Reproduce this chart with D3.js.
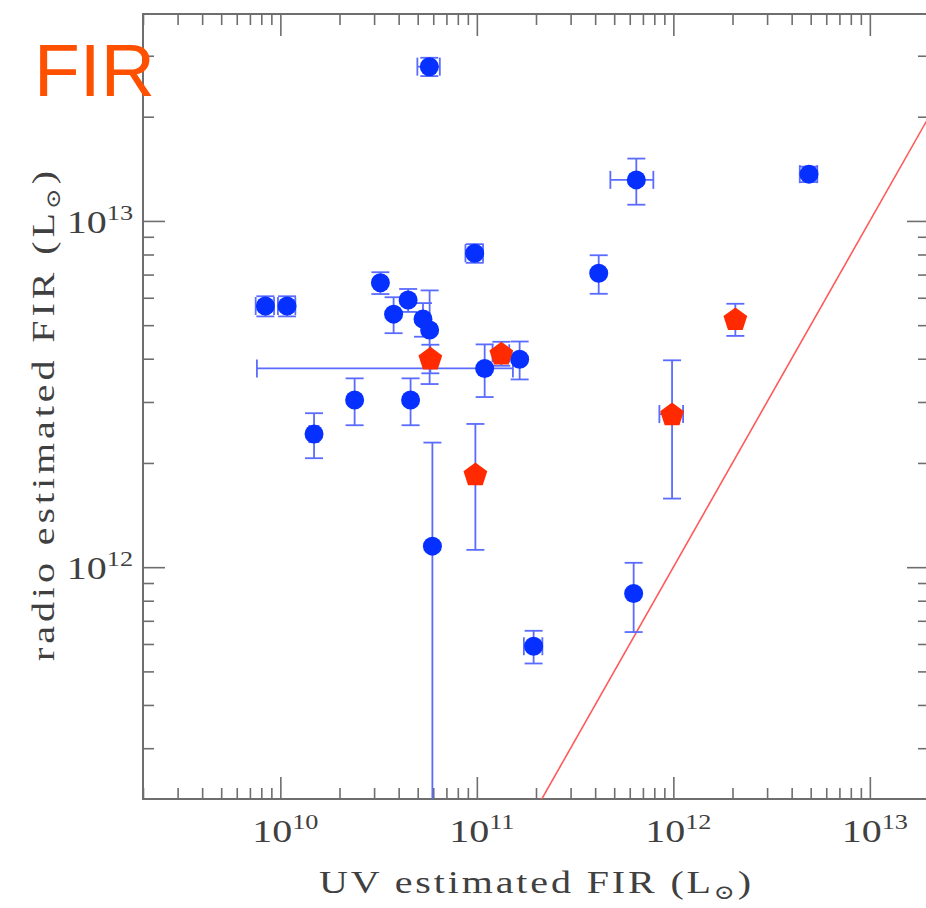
<!DOCTYPE html>
<html>
<head>
<meta charset="utf-8">
<script src="https://cdn.jsdelivr.net/npm/d3@7"></script>
<style>
  body { margin: 0; background: #fff; }
  svg { display: block; }
</style>
</head>
<body>
<svg id="chart" width="926" height="908"></svg>
<script>
// Radio-estimated vs UV-estimated far-infrared luminosity (solar units)

// Blue sample (filled circles)
const blueX       = [5.73e10, 6.48e11, 4.90e12, 9.75e10, 4.17e11, 8.39e9, 1.082e10, 3.23e10, 3.77e10, 4.47e10,
                     5.32e10, 5.75e10, 1.096e11, 1.651e11, 1.484e10, 2.388e10, 4.60e10, 5.94e10, 1.945e11, 6.28e11];
const blueY       = [2.79e13, 1.314e13, 1.365e13, 8.07e12, 7.06e12, 5.68e12, 5.68e12, 6.63e12, 5.38e12, 5.91e12,
                     5.21e12, 4.84e12, 3.75e12, 3.985e12, 2.424e12, 3.04e12, 3.04e12, 1.15e12, 5.91e11, 8.395e11];
const blueXErrLo  = [0.75e10, 1.7e11, 0.5e12, 1.0e10, 0, 0.9e9, 1.1e9, 0, 0, 0,
                     0, 0, 1.02e11, 0, 0.08e10, 0, 0, 0, 0.21e11, 0];
const blueXErrHi  = [0.75e10, 1.43e11, 0.5e12, 1.0e10, 0, 0.9e9, 1.1e9, 0, 0, 0,
                     0, 0, 0.43e11, 0, 0.08e10, 0, 0, 0, 0.21e11, 0];
const blueYErr    = [0.17e13, 0.2e13, 0.07e13, 0.5e12, 0.9e12, 0.38e12, 0.38e12, 0.48e12, 0.64e12, 0.45e12,
                     0.58e12, 1.46e12, 0.65e12, 0.5e12, 0.36e12, 0.47e12, 0.47e12, 1.14e12, 0.64e11, 0.19e12];

// Red sample (pentagons)
const redX    = [5.80e10, 1.332e11, 9.83e10, 9.85e11, 2.068e12];
const redY    = [4.01e12, 4.147e12, 1.857e12, 2.768e12, 5.21e12];
const redXErr = [0, 0.13e11, 0, 1.36e11, 0];
const redYErr = [0.38e12, 0.33e12, 0.735e12, 1.19e12, 0.555e12];

// Axes
const xDomain = [2e9, 2e13];
const yDomain = [2.14e11, 3.96e13];
const xMajor = [1e10, 1e11, 1e12, 1e13];
const xMajorExp = ["10", "11", "12", "13"];
const yMajor = [1e12, 1e13];
const yMajorExp = ["12", "13"];
const oneToOneRange = [1e9, 1e14];

const plot = { left: 143, right: 929, top: 14, bottom: 799 };

const svg = d3.select("#chart");
const x = d3.scaleLog().domain(xDomain).range([plot.left, plot.right]);
const y = d3.scaleLog().domain(yDomain).range([plot.bottom, plot.top]);

svg.append("defs").append("clipPath").attr("id", "plotClip")
  .append("rect")
  .attr("x", plot.left).attr("y", plot.top)
  .attr("width", plot.right - plot.left).attr("height", plot.bottom - plot.top);

const axisColor = "#6e6e6e";
const majorLen = 22, minorLen = 11;

const isMajor = v => Math.abs(Math.log10(v) - Math.round(Math.log10(v))) < 1e-9;
const xMinor = x.ticks().filter(v => !isMajor(v));
const yMinor = y.ticks().filter(v => !isMajor(v));

function addAxis(axisGen, transform, values, len) {
  const g = svg.append("g")
    .attr("transform", transform)
    .call(axisGen.tickValues(values).tickSize(-len).tickFormat(""));
  g.select(".domain").remove();
  g.selectAll(".tick line").attr("stroke", axisColor).attr("stroke-width", 1.6);
}
// bottom / top
addAxis(d3.axisBottom(x), `translate(0,${plot.bottom})`, xMinor, minorLen);
addAxis(d3.axisBottom(x), `translate(0,${plot.bottom})`, xMajor, majorLen);
addAxis(d3.axisTop(x), `translate(0,${plot.top})`, xMinor, minorLen);
addAxis(d3.axisTop(x), `translate(0,${plot.top})`, xMajor, majorLen);
// left / right
addAxis(d3.axisLeft(y), `translate(${plot.left},0)`, yMinor, minorLen);
addAxis(d3.axisLeft(y), `translate(${plot.left},0)`, yMajor, majorLen);
addAxis(d3.axisRight(y), `translate(${plot.right},0)`, yMinor, minorLen);
addAxis(d3.axisRight(y), `translate(${plot.right},0)`, yMajor, majorLen);

// frame
svg.append("rect")
  .attr("x", plot.left).attr("y", plot.top)
  .attr("width", plot.right - plot.left).attr("height", plot.bottom - plot.top)
  .attr("fill", "none").attr("stroke", axisColor).attr("stroke-width", 2);

// text is drawn in a serif face stretched horizontally
const labelFont = "'Liberation Serif', 'DejaVu Serif', serif";
const labelColor = "#404040";
const stretch = 1.25;

xMajor.forEach((v, i) => {
  const t = svg.append("g")
    .attr("transform", `translate(${x(v) + 5},842) scale(${stretch},1)`)
    .append("text")
    .attr("text-anchor", "middle")
    .attr("font-family", labelFont).attr("font-size", 32)
    .attr("fill", labelColor);
  t.append("tspan").text("10");
  t.append("tspan").attr("font-size", 21).attr("dy", -13).text(xMajorExp[i]);
});

yMajor.forEach((v, i) => {
  const t = svg.append("g")
    .attr("transform", `translate(133,${y(v) + 12}) scale(${stretch},1)`)
    .append("text")
    .attr("text-anchor", "end")
    .attr("font-family", labelFont).attr("font-size", 32)
    .attr("fill", labelColor);
  t.append("tspan").text("10");
  t.append("tspan").attr("font-size", 21).attr("dy", -13).text(yMajorExp[i]);
});

// axis titles
const xt = svg.append("g")
  .attr("transform", `translate(535,893) scale(${stretch},1)`)
  .append("text")
  .attr("text-anchor", "middle")
  .attr("font-family", labelFont).attr("font-size", 32)
  .attr("textLength", 432 / stretch).attr("lengthAdjust", "spacing")
  .attr("fill", labelColor);
xt.append("tspan").text("UV estimated FIR (L");
xt.append("tspan").attr("font-size", 20).attr("dy", 6).text("\u2299");
xt.append("tspan").attr("dy", -6).text(")");

const yt = svg.append("g")
  .attr("transform", `translate(54,416) rotate(-90) scale(${stretch},1)`)
  .append("text")
  .attr("text-anchor", "middle")
  .attr("font-family", labelFont).attr("font-size", 32)
  .attr("textLength", 490 / stretch).attr("lengthAdjust", "spacing")
  .attr("fill", labelColor);
yt.append("tspan").text("radio estimated FIR (L");
yt.append("tspan").attr("font-size", 20).attr("dy", 6).text("\u2299");
yt.append("tspan").attr("dy", -6).text(")");

// one-to-one relation
const clipped = svg.append("g").attr("clip-path", "url(#plotClip)");
clipped.append("path")
  .datum(oneToOneRange)
  .attr("d", d3.line().x(d => x(d)).y(d => y(d)))
  .attr("fill", "none").attr("stroke", "#ff5a5a").attr("stroke-width", 1.6);

// error bars
const errColor = "#5a6bff", errWidth = 1.8, cap = 9;
function errorBar(px, py, xLo, xHi, yErr) {
  const g = clipped.append("g").attr("stroke", errColor).attr("stroke-width", errWidth).attr("fill", "none");
  if (yErr > 0) {
    const y1 = y(py + yErr), y0 = y(Math.max(py - yErr, 1e6));
    g.append("line").attr("x1", x(px)).attr("x2", x(px)).attr("y1", y1).attr("y2", y0);
    g.append("line").attr("x1", x(px) - cap).attr("x2", x(px) + cap).attr("y1", y1).attr("y2", y1);
    g.append("line").attr("x1", x(px) - cap).attr("x2", x(px) + cap).attr("y1", y0).attr("y2", y0);
  }
  if (xLo > 0 || xHi > 0) {
    const x0 = x(px - xLo), x1 = x(px + xHi);
    g.append("line").attr("x1", x0).attr("x2", x1).attr("y1", y(py)).attr("y2", y(py));
    g.append("line").attr("x1", x0).attr("x2", x0).attr("y1", y(py) - cap).attr("y2", y(py) + cap);
    g.append("line").attr("x1", x1).attr("x2", x1).attr("y1", y(py) - cap).attr("y2", y(py) + cap);
  }
}
blueX.forEach((v, i) => errorBar(v, blueY[i], blueXErrLo[i], blueXErrHi[i], blueYErr[i]));
redX.forEach((v, i) => errorBar(v, redY[i], redXErr[i], redXErr[i], redYErr[i]));

// blue circles
svg.append("g").selectAll("circle")
  .data(blueX.map((v, i) => [v, blueY[i]]))
  .join("circle")
  .attr("cx", d => x(d[0])).attr("cy", d => y(d[1]))
  .attr("r", 9.5).attr("fill", "#0630ff");

// red pentagons
const pentagon = d3.symbol().type({
  draw(ctx, size) {
    const R = Math.sqrt(size);
    for (let k = 0; k < 5; k++) {
      const a = -Math.PI / 2 + k * 2 * Math.PI / 5;
      const px = R * Math.cos(a), py = R * Math.sin(a);
      k === 0 ? ctx.moveTo(px, py) : ctx.lineTo(px, py);
    }
    ctx.closePath();
  }
}).size(12.5 * 12.5);

svg.append("g").selectAll("path")
  .data(redX.map((v, i) => [v, redY[i]]))
  .join("path")
  .attr("transform", d => `translate(${x(d[0])},${y(d[1]) + 1})`)
  .attr("d", pentagon)
  .attr("fill", "#ff2a00");

// panel tag
svg.append("text")
  .attr("x", 34).attr("y", 96)
  .attr("font-family", "'Liberation Sans', Arial, sans-serif")
  .attr("font-size", 75)
  .attr("fill", "#ff5000")
  .text("FIR");
</script>
</body>
</html>
